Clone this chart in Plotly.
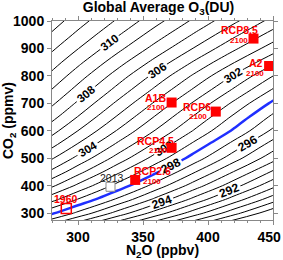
import plotly.graph_objects as go

# ---- data ----
n2o_grid = [270, 300, 330, 360, 390, 420, 460]           # ppbv
co2_grid = [250, 300, 350, 400, 450, 500, 550, 600, 650, 700,
            750, 800, 850, 900, 950, 1000, 1050]          # ppmv
# ozone (DU) along N2O = 280 ppbv for each CO2 value
o3_at_n280 = [295.42, 298.15, 300.34, 302.18, 303.74, 305.09, 306.29,
              307.35, 308.31, 309.17, 309.97, 310.72, 311.45, 312.17,
              312.85, 313.48, 314.05]
# ozone loss per ppbv of N2O for each CO2 value
do3_dn2o = [0.070, 0.070, 0.070, 0.070, 0.070, 0.069, 0.069, 0.068,
            0.068, 0.067, 0.065, 0.063, 0.060, 0.057, 0.0545, 0.052, 0.050]

x_tickvals = [300, 350, 400, 450]
x_ticktext = ["300", "350", "400", "450\u00a0\u00a0"]
y_tickvals = [300, 400, 500, 600, 700, 800, 900, 1000]

scen_names = ["RCP8.5", "A2", "A1B", "RCP6", "RCP4.5", "RCP2.6"]
scen_n2o = [435, 447, 372, 406, 372, 344]
scen_co2 = [936, 836, 703, 670, 538, 421]
hist_years = ["1960", "2013"]
hist_n2o = [291, 325]
hist_co2 = [317, 396]

z = [[g - s * (n - 280) for n in n2o_grid] for g, s in zip(o3_at_n280, do3_dn2o)]

FONT = "Liberation Sans"
fig = go.Figure()

def contour(start, end, size, color, width, labels, lsize=12):
    fig.add_trace(go.Contour(
        x=n2o_grid, y=co2_grid, z=z, showscale=False,
        contours=dict(start=start, end=end, size=size, coloring="none",
                      showlabels=labels,
                      labelfont=dict(family=FONT, size=lsize, color="black", weight="bold")),
        line=dict(color=color, width=width, smoothing=1), hoverinfo="skip"))

contour(287, 313, 2, "black", 1, False)
contour(288, 296, 2, "black", 1, True)
contour(300, 312, 2, "black", 1, True, 11.5)
contour(298, 298, 1, "#1f2fff", 2.5, True)

red = "#ff0000"
fig.add_trace(go.Scatter(x=scen_n2o, y=scen_co2, mode="markers",
                         marker=dict(symbol="square", size=10, color=red),
                         hoverinfo="skip"))
fig.add_trace(go.Scatter(x=hist_n2o[:1], y=hist_co2[:1], mode="markers",
                         marker=dict(symbol="square-open", size=10, color=red,
                                     line=dict(width=1.5)), hoverinfo="skip"))
fig.add_trace(go.Scatter(x=hist_n2o[1:], y=hist_co2[1:], mode="markers",
                         marker=dict(symbol="square", size=9, color="white",
                                     line=dict(width=1, color="#888888")),
                         hoverinfo="skip"))

# label offsets (px) for name and "2100"
offs = {
    "RCP8.5": ((-14, 9), (-15, -2)),
    "A2": ((-13, 3), (-14, -7)),
    "A1B": ((-16, 5), (-16, -5)),
    "RCP6": ((-19, 5), (-18, -5)),
    "RCP4.5": ((-16, 7), (-14, -3)),
    "RCP2.6": ((17, 9), (17, -2)),
}
for name, xn, yc in zip(scen_names, scen_n2o, scen_co2):
    (dx1, dy1), (dx2, dy2) = offs[name]
    fig.add_annotation(x=xn, y=yc, text=name, showarrow=False, xshift=dx1, yshift=dy1,
                       font=dict(family=FONT, size=10.5, color=red, weight="bold"))
    fig.add_annotation(x=xn, y=yc, text="2100", showarrow=False, xshift=dx2, yshift=dy2,
                       font=dict(family=FONT, size=8, color=red, weight="bold"))
fig.add_annotation(x=hist_n2o[0], y=hist_co2[0], text=hist_years[0], showarrow=False,
                   yshift=9, font=dict(family=FONT, size=10.5, color=red, weight="bold"))
fig.add_annotation(x=hist_n2o[1], y=hist_co2[1], text=hist_years[1], showarrow=False,
                   xshift=1, yshift=9, font=dict(family=FONT, size=10.5, color="#222222"))

axis_common = dict(showline=True, linecolor="#888888", linewidth=1, mirror="ticks",
                   ticks="outside", ticklen=4, tickcolor="#888888", showgrid=False,
                   zeroline=False, automargin=False, ticklabeloverflow="allow",
                   tickfont=dict(family=FONT, size=14, color="black", weight="bold"))
title_font = dict(family=FONT, size=14, color="black", weight="bold")
fig.update_layout(
    width=283, height=260, margin=dict(l=52, r=10, t=21, b=40),
    paper_bgcolor="white", plot_bgcolor="white", showlegend=False,
    title=dict(text="Global Average O<sub>3</sub>(DU)", x=0.56, xanchor="center",
               y=0.99, yanchor="top", font=title_font),
    xaxis=dict(range=[280, 450], tickvals=x_tickvals, ticktext=x_ticktext,
               minor=dict(dtick=10, ticks="outside", ticklen=2, tickcolor="#888888"),
               title=dict(text="N<sub>2</sub>O (ppbv)", standoff=0, font=title_font),
               **axis_common),
    yaxis=dict(range=[275, 1000], tickvals=y_tickvals,
               title=dict(text="CO<sub>2</sub> (ppmv)", standoff=0, font=title_font),
               **axis_common),
)
fig.write_html("out.html", config={"displayModeBar": False},
               post_script="document.body.style.margin='0px';")
